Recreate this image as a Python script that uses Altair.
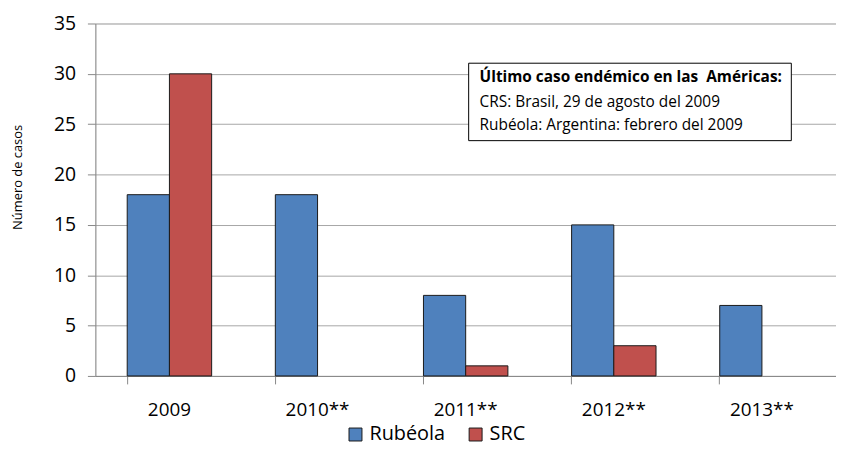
import altair as alt
import pandas as pd

years = ["2009", "2010**", "2011**", "2012**", "2013**"]
rubeola = [18, 18, 8, 15, 7]
src = [30, 0, 1, 3, 0]
series = ["Rubéola", "SRC"]
colors = ["#4F81BD", "#C0504D"]
y_ticks = [0, 5, 10, 15, 20, 25, 30, 35]
y_title = "Número de casos"
box_lines = [
    "Último caso endémico en las\u00a0 Américas:",
    "CRS: Brasil, 29 de agosto del 2009",
    "Rubéola: Argentina: febrero del 2009",
]

rows = []
for i, yr in enumerate(years):
    rows.append({"year": yr, "serie": series[0], "value": rubeola[i]})
    rows.append({"year": yr, "serie": series[1], "value": src[i]})
df = pd.DataFrame(rows)

FONT = "Open Sans"
W, H = 746, 355

bars = alt.Chart(df).transform_filter("datum.value > 0").mark_bar(
    stroke="#1a1a1a", strokeWidth=1
).encode(
    x=alt.X("year:N", sort=years,
            scale=alt.Scale(paddingInner=0.43, paddingOuter=0.215),
            axis=alt.Axis(title=None, labelAngle=0, labelFontSize=19, labelFont=FONT,
                          labelColor="#000000", labelPadding=17, tickSize=8,
                          tickColor="#888888", domainColor="#888888", bandPosition=0,
                          grid=False)),
    xOffset=alt.XOffset("serie:N", sort=series),
    y=alt.Y("value:Q",
            scale=alt.Scale(domain=[0, 35], nice=False),
            axis=alt.Axis(title=None, values=y_ticks, labelFontSize=19.5,
                          labelFont=FONT, labelColor="#000000", labelPadding=12,
                          tickSize=8, tickColor="#888888", domainColor="#888888",
                          gridColor="#A6A6A6")),
    color=alt.Color("serie:N", sort=series,
                    scale=alt.Scale(domain=series, range=colors),
                    legend=alt.Legend(title=None, orient="none", direction="horizontal",
                                      legendX=252, legendY=404, symbolType="square",
                                      symbolSize=170, symbolStrokeColor="#1a1a1a",
                                      symbolStrokeWidth=1, labelFont=FONT,
                                      labelFontSize=20, labelColor="#000000",
                                      columnPadding=20, labelOffset=4)),
)

ytitle = alt.Chart(pd.DataFrame({"t": [y_title]})).mark_text(
    angle=270, align="center", baseline="middle", font=FONT, fontSize=13,
    color="#000000"
).encode(x=alt.value(-78), y=alt.value(155), text="t:N")

box = alt.Chart(pd.DataFrame({"k": [0]})).mark_rect(
    fill="white", stroke="#000000", strokeWidth=1
).encode(
    x=alt.value(376), x2=alt.value(701), y=alt.value(40), y2=alt.value(118)
)

text_df = pd.DataFrame({"line": box_lines, "i": [0, 1, 2]})
t1 = alt.Chart(text_df.iloc[[0]]).mark_text(
    align="left", baseline="middle", font=FONT, fontSize=15.5, fontWeight="bold",
    color="#000000"
).encode(x=alt.value(387), y=alt.value(54), text="line:N")
t2 = alt.Chart(text_df.iloc[[1]]).mark_text(
    align="left", baseline="middle", font=FONT, fontSize=15.5, color="#000000"
).encode(x=alt.value(387), y=alt.value(79), text="line:N")
t3 = alt.Chart(text_df.iloc[[2]]).mark_text(
    align="left", baseline="middle", font=FONT, fontSize=15.5, color="#000000"
).encode(x=alt.value(387), y=alt.value(102), text="line:N")

chart = alt.layer(bars, ytitle, box, t1, t2, t3).properties(
    width=W, height=H,
    autosize=alt.AutoSizeParams(type="none"),
    padding={"left": 88, "top": 14, "right": 0, "bottom": 74},
).configure_view(stroke=None).configure(background="white")

chart.save("out.html", embed_options={"renderer": "svg", "actions": False})
